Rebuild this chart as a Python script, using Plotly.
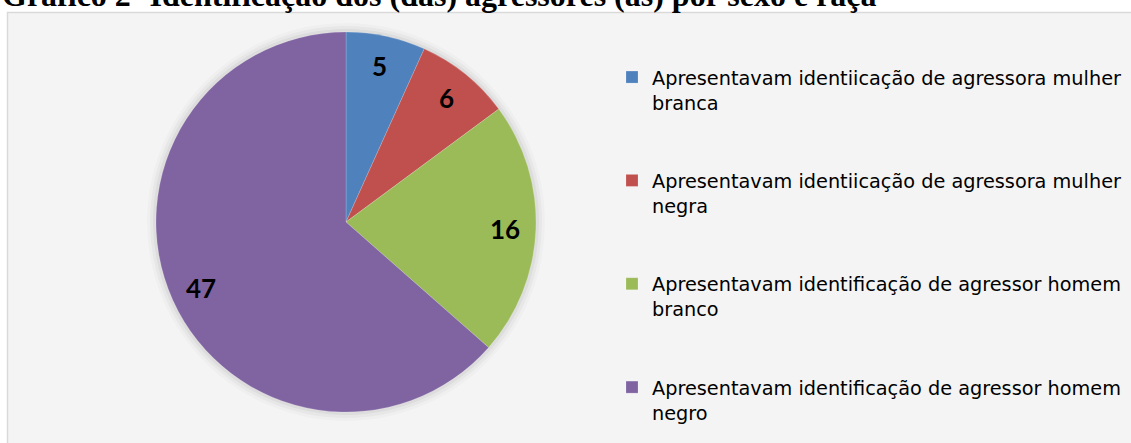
import numpy as np
import plotly.graph_objects as go

labels = [
    "Apresentavam identiicação de agressora mulher<br>branca<br> <br> ",
    "Apresentavam identiicação de agressora mulher<br>negra<br> <br> ",
    "Apresentavam identificação de agressor homem<br>branco<br> <br> ",
    "Apresentavam identificação de agressor homem<br>negro",
]
values = [5, 6, 16, 47]
colors = ["#4F81BD", "#C0504D", "#9BBB59", "#8064A2"]
title_text = "Gráfico 2- Identificação dos (das) agressores (as) por sexo e raça"

W, H = 1131, 443
cx, cy, R = 346, 222, 190

def dom(r):
    return dict(x=[(cx - r) / W, (cx + r) / W], y=[(H - cy - r) / H, (H - cy + r) / H])

fig = go.Figure()
# soft glow behind the pie
for extra, op in [(9, 0.02), (6, 0.03), (3, 0.045)]:
    fig.add_trace(go.Pie(values=[1], labels=[" "], domain=dom(R + extra), sort=False,
                         marker=dict(colors=[f"rgba(0,0,0,{op})"], line=dict(width=0)),
                         textinfo="none", hoverinfo="skip", showlegend=False))

fig.add_trace(go.Pie(
    labels=labels, values=values, sort=False, direction="clockwise", rotation=0,
    domain=dom(R),
    marker=dict(colors=colors, line=dict(color="rgba(255,255,255,0.35)", width=0.5)),
    textinfo="none", hoverinfo="label+value",
    showlegend=True,
))

# value labels placed along each slice's mid-angle
vals = np.array(values, dtype=float)
cum = np.cumsum(vals) - vals / 2
mid = cum / vals.sum() * 2 * np.pi
annotations = []
for v, a in zip(values, mid):
    rr = 0.84 * R
    px = cx + rr * np.sin(a)
    py = cy - rr * np.cos(a)
    annotations.append(dict(text=f"<b>{v}</b>", xref="paper", yref="paper",
                            x=px / W, y=(H - py) / H, xanchor="center", yanchor="middle",
                            showarrow=False,
                            font=dict(family="Lato", size=26, color="black")))

annotations.append(dict(text=f"<b>{title_text}</b>", xref="paper", yref="paper",
                        x=0, xanchor="left", y=(H + 5) / H, yanchor="middle",
                        showarrow=False,
                        font=dict(family="Liberation Serif", size=32, color="black")))

fig.update_layout(
    width=W, height=H,
    margin=dict(l=0, r=0, t=0, b=0, autoexpand=False),
    paper_bgcolor="white",
    plot_bgcolor="white",
    shapes=[dict(type="rect", xref="paper", yref="paper",
                 x0=7.5 / W, x1=1.01, y0=-0.01, y1=(H - 12.5) / H,
                 line=dict(color="#d9d9d9", width=1.5), fillcolor="#f4f4f4", layer="below")],
    legend=dict(x=612 / W, xanchor="left", y=(H - 58) / H, yanchor="top",
                font=dict(family="DejaVu Sans", size=19.3, color="black"),
                bgcolor="rgba(0,0,0,0)", valign="top", tracegroupgap=0,
                itemwidth=30),
    annotations=annotations,
)

fig.write_html("out.html", config={"displayModeBar": False},
               post_script="document.body.style.margin='0';")
